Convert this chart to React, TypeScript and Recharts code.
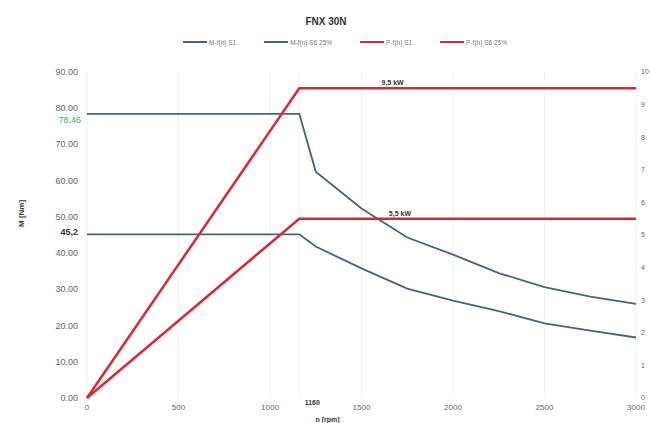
import React from "react";
import {
  LineChart,
  Line,
  XAxis,
  YAxis,
  CartesianGrid,
  Legend,
  ReferenceDot,
  Label,
} from "recharts";

const speeds = [0, 1160, 1250, 1500, 1750, 2000, 2250, 2500, 2750, 3000];
const torqueS1 = [45.2, 45.2, 41.8, 35.8, 30.2, 26.9, 24.0, 20.6, 18.6, 16.7];
const torqueS6 = [78.46, 78.46, 62.5, 52.3, 44.3, 39.6, 34.5, 30.6, 28.0, 26.0];
const powerS1 = [0, 5.5, 5.5, 5.5, 5.5, 5.5, 5.5, 5.5, 5.5, 5.5];
const powerS6 = [0, 9.5, 9.5, 9.5, 9.5, 9.5, 9.5, 9.5, 9.5, 9.5];

const speedTicks = [0, 500, 1000, 1160, 1500, 2000, 2500, 3000];
const torqueTicks = [0, 10, 20, 30, 40, 45.2, 50, 60, 70, 78.46, 80, 90];
const powerTicks = [0, 1, 2, 3, 4, 5, 6, 7, 8, 9, 10];

const data = speeds.map((n, i) => ({
  n,
  mS1: torqueS1[i],
  mS6: torqueS6[i],
  pS1: powerS1[i],
  pS6: powerS6[i],
}));

const BLUE = "#48627f";
const RED = "#d8283a";
const FONT = "'Liberation Sans', Arial, sans-serif";

function TorqueTick({ x, y, payload }: any) {
  const v = payload.value;
  if (v === 78.46) {
    return (
      <text x={x} y={y} dx={3} dy={9} textAnchor="end" fontSize={9} fill="#2fae55" fontFamily={FONT}>
        78,46
      </text>
    );
  }
  if (v === 45.2) {
    return (
      <text x={x} y={y} dy={1} textAnchor="end" fontSize={9} fill="#333" fontWeight="bold" fontFamily={FONT}>
        45,2
      </text>
    );
  }
  return (
    <text x={x} y={y} dy={3} textAnchor="end" fontSize={9} fill="#666" fontFamily={FONT}>
      {v.toFixed(2)}
    </text>
  );
}

function SpeedTick({ x, y, payload }: any) {
  const v = payload.value;
  if (v === 1160) {
    return (
      <text x={x} y={y} dx={13} dy={7} textAnchor="middle" fontSize={7} fill="#333" fontWeight="bold" fontFamily={FONT}>
        1160
      </text>
    );
  }
  return (
    <text x={x} y={y} dy={12} textAnchor="middle" fontSize={8} fill="#666" fontFamily={FONT}>
      {v}
    </text>
  );
}

function ChartHeader({ payload }: any) {
  return (
    <div style={{ position: "relative", height: 62, fontFamily: FONT }}>
      <div style={{ position: "absolute", top: 5, left: 0, right: 0, height: 14, lineHeight: "14px", textAlign: "center", fontSize: 10, fontWeight: "bold", color: "#333" }}>
        FNX 30N
      </div>
      <div style={{ position: "absolute", top: 27, left: 0, right: 0, height: 10, display: "flex", justifyContent: "center", gap: 28, paddingLeft: 38 }}>
        {(payload || []).map((p: any) => (
          <div key={p.value} style={{ display: "flex", alignItems: "center", fontSize: 6.5, color: "#777" }}>
            <span style={{ display: "inline-block", width: 24, height: 2, background: p.color, marginRight: 2 }} />
            {p.value}
          </div>
        ))}
      </div>
    </div>
  );
}

export default function App() {
  return (
    <div style={{ position: "absolute", left: 0, top: 0, background: "#fff" }}>
      <LineChart width={652} height={423} data={data} margin={{ top: 10, right: 0, bottom: 0, left: 27 }}>
        <CartesianGrid horizontal={false} stroke="#f1f1f1" />
        <Legend verticalAlign="top" content={<ChartHeader />} wrapperStyle={{ left: 0, width: 652 }} />
        <XAxis
          dataKey="n"
          type="number"
          domain={[0, 3000]}
          ticks={speedTicks}
          interval={0}
          axisLine={false}
          tickLine={false}
          tickSize={0}
          tickMargin={0}
          height={25}
          tick={<SpeedTick />}
        >
          <Label value="n [rpm]" position="insideBottom" offset={1} dx={-34} fontSize={7} fontWeight="bold" fill="#333" fontFamily={FONT} />
        </XAxis>
        <YAxis
          yAxisId="m"
          domain={[0, 90]}
          ticks={torqueTicks}
          interval={0}
          axisLine={false}
          tickLine={false}
          tickSize={0}
          tickMargin={9}
          width={60}
          tick={<TorqueTick />}
        >
          <Label value="M [Nm]" angle={-90} position="insideLeft" offset={-6} dy={-8} fontSize={8} fontWeight="bold" fill="#333" fontFamily={FONT} />
        </YAxis>
        <YAxis
          yAxisId="p"
          orientation="right"
          domain={[0, 10]}
          ticks={powerTicks}
          interval={0}
          axisLine={false}
          tickLine={false}
          tickSize={0}
          tickMargin={5}
          width={16}
          tick={{ fontSize: 7, fill: "#666", fontFamily: FONT }}
        />
        <Line yAxisId="m" dataKey="mS1" name="M-f(n) S1" stroke={BLUE} strokeWidth={1.8} dot={false} type="linear" isAnimationActive={false} />
        <Line yAxisId="m" dataKey="mS6" name="M-f(n) S6 25%" stroke={BLUE} strokeWidth={1.8} dot={false} type="linear" isAnimationActive={false} />
        <Line yAxisId="p" dataKey="pS1" name="P-f(n) S1" stroke={RED} strokeWidth={2.5} dot={false} type="linear" isAnimationActive={false} />
        <Line yAxisId="p" dataKey="pS6" name="P-f(n) S6 25%" stroke={RED} strokeWidth={2.5} dot={false} type="linear" isAnimationActive={false} />
        <ReferenceDot yAxisId="p" x={1670} y={9.5} r={0} stroke="none">
          <Label value="9,5 kW" position="top" offset={3} fontSize={7} fontWeight="bold" fill="#333" fontFamily={FONT} />
        </ReferenceDot>
        <ReferenceDot yAxisId="p" x={1710} y={5.5} r={0} stroke="none">
          <Label value="5,5 kW" position="top" offset={3} fontSize={7} fontWeight="bold" fill="#333" fontFamily={FONT} />
        </ReferenceDot>
      </LineChart>
    </div>
  );
}
